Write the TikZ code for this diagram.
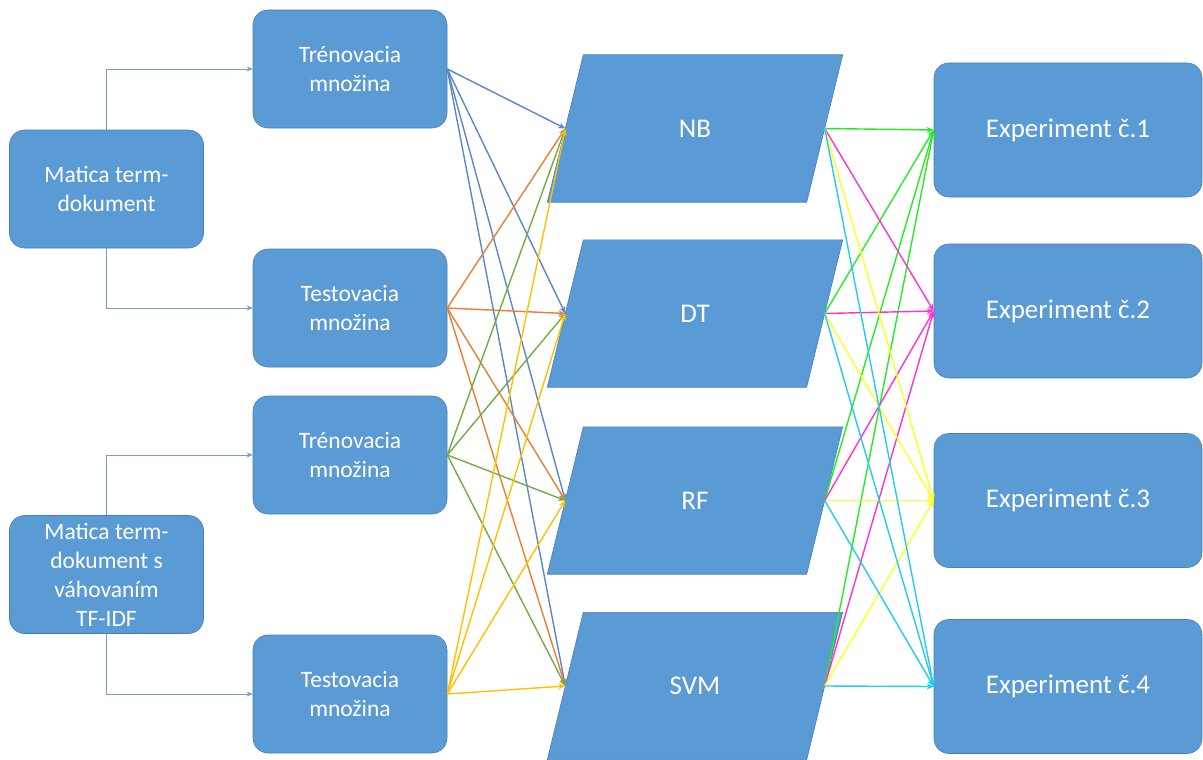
\documentclass[tikz,border=0pt]{standalone}
\usepackage{fontspec}
\setmainfont{Carlito}
\usetikzlibrary{arrows.meta,backgrounds}
\definecolor{boxblue}{HTML}{5B9BD5}
\definecolor{boxline}{HTML}{4A7EBB}
\definecolor{connc}{HTML}{7C9BC6}
\definecolor{cA}{HTML}{5B87C8}
\definecolor{cB}{HTML}{ED7D31}
\definecolor{cC}{HTML}{70AD47}
\definecolor{cD}{HTML}{FFC000}
\definecolor{eA}{HTML}{22EE22}
\definecolor{eB}{HTML}{FF33CC}
\definecolor{eC}{HTML}{FFFF22}
\definecolor{eD}{HTML}{22CCEE}
\begin{document}
\begin{tikzpicture}[x=1pt,y=-1pt,
 rbox/.style={draw=boxline, fill=boxblue, rounded corners=15pt, text=white, align=center, inner sep=0pt, line width=0.6pt},
 smalltxt/.style={font=\fontsize{23.5}{29}\selectfont},
 bigtxt/.style={font=\fontsize{27}{32}\selectfont},
 setbox/.style={rbox, smalltxt, minimum width=194pt, minimum height=118pt},
 expbox/.style={rbox, bigtxt, minimum width=268pt, minimum height=134pt},
 paratext/.style={text=white, bigtxt, inner sep=0pt, minimum width=259pt, minimum height=147pt},
 paraback/.style={fill=boxblue, draw=boxline, line width=0.6pt},
 conn/.style={draw=connc, line width=0.8pt, -{Stealth[length=6pt,width=5pt]}},
 flow/.style={line width=1.4pt, -{Stealth[length=7pt,width=6pt]}},
]
\useasboundingbox (0,0) rectangle (1203,760);

\node[setbox] (m1) at (106.5,189) {Matica term-\\dokument};
\node[setbox] (m2) at (106.5,574.5) {Matica term-\\dokument s\\váhovaním\\TF-IDF};
\node[setbox] (t1) at (350,69) {Trénovacia\\množina};
\node[setbox] (s1) at (350,308) {Testovacia\\množina};
\node[setbox] (t2) at (350,455) {Trénovacia\\množina};
\node[setbox] (s2) at (350,694) {Testovacia\\množina};

\node[paratext] (nb) at (695,128.5) {NB};
\node[paratext] (dt) at (695,313.5) {DT};
\node[paratext] (rf) at (695,500.5) {RF};
\node[paratext] (svm) at (695,686) {SVM};

\begin{pgfonlayer}{background}
\foreach \n in {nb,dt,rf,svm}
  \filldraw[paraback] ([xshift=18pt]\n.north west) -- ([xshift=18pt]\n.north east)
     -- ([xshift=-18pt]\n.south east) -- ([xshift=-18pt]\n.south west) -- cycle;
\end{pgfonlayer}

\node[expbox] (e1) at (1068,130) {Experiment č.1};
\node[expbox] (e2) at (1068,311) {Experiment č.2};
\node[expbox] (e3) at (1068,500.5) {Experiment č.3};
\node[expbox] (e4) at (1068,686.5) {Experiment č.4};

\draw[conn] (m1.north) |- (t1.west);
\draw[conn] (m1.south) |- (s1.west);
\draw[conn] (m2.north) |- (t2.west);
\draw[conn] (m2.south) |- (s2.west);

\foreach \s/\c in {t1/cA, s1/cB, t2/cC, s2/cD}
  \foreach \t in {nb,dt,rf,svm}
    \draw[flow, color=\c] (\s.east) -- (\t.west);

\foreach \t/\c in {e1/eA, e2/eB, e3/eC, e4/eD}
  \foreach \s in {nb,dt,rf,svm}
    \draw[flow, color=\c] (\s.east) -- (\t.west);
\end{tikzpicture}
\end{document}
